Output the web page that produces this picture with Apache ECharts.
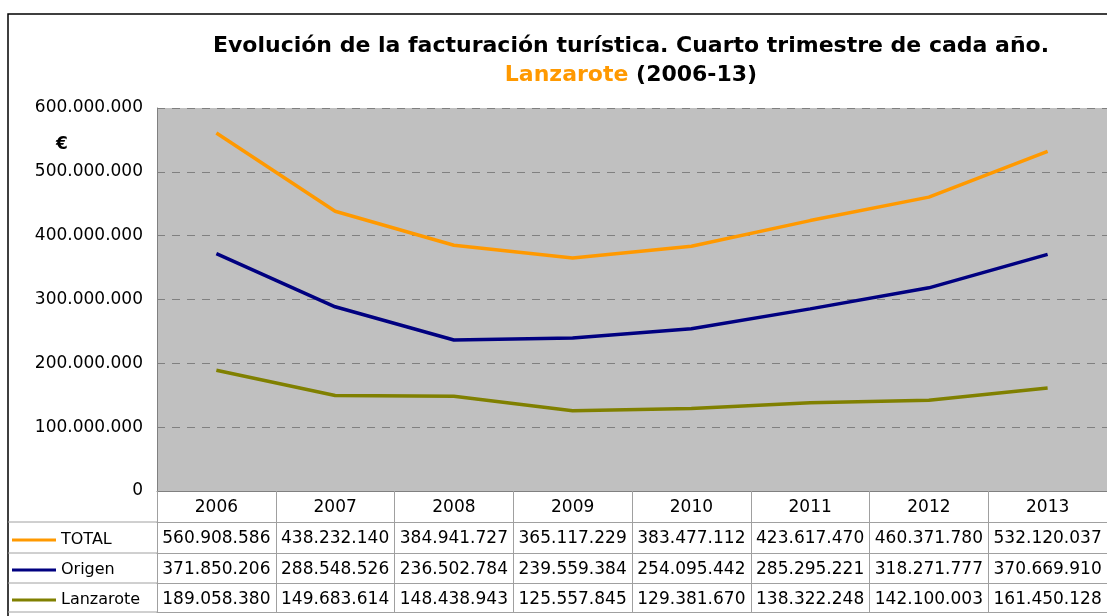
<!DOCTYPE html>
<html>
<head>
<meta charset="utf-8">
<script src="https://cdn.jsdelivr.net/npm/echarts@6/dist/echarts.min.js"></script>
<style>
  html, body { margin: 0; padding: 0; background: #fff; }
  #chart1 { width: 1107px; height: 616px; }
</style>
</head>
<body>
<div id="chart1"></div>
<script>
// datos del gráfico
const years = ['2006', '2007', '2008', '2009', '2010', '2011', '2012', '2013'];
const total = [560908586, 438232140, 384941727, 365117229, 383477112, 423617470, 460371780, 532120037];
const origen = [371850206, 288548526, 236502784, 239559384, 254095442, 285295221, 318271777, 370669910];
const lanzarote = [189058380, 149683614, 148438943, 125557845, 129381670, 138322248, 142100003, 161450128];

const font = 'DejaVu Sans';

// formato con puntos de miles
function fmt(n) {
    return String(n).replace(/\B(?=(\d{3})+(?!\d))/g, '.');
}

let chart1;

document.addEventListener('DOMContentLoaded', function () {
    chart1 = echarts.init(document.getElementById('chart1'));

    // ejes extra que hacen de filas de la tabla
    function tableRow(values, offset, showLabel) {
        return {
            type: 'category',
            gridIndex: 0,
            position: 'bottom',
            offset: offset,
            data: values,
            axisLine: { show: true, lineStyle: { color: '#a0a0a0', width: 1 } },
            axisTick: { show: false },
            axisLabel: { show: showLabel, interval: 0, margin: 8, color: '#000', fontSize: 17, fontFamily: font },
            splitLine: { show: false }
        };
    }

    function legendRow(name, top) {
        return {
            data: [name],
            left: 12,
            top: top,
            padding: 0,
            icon: 'rect',
            itemWidth: 44,
            itemHeight: 3,
            selectedMode: false,
            textStyle: { color: '#000', fontSize: 16, fontFamily: font }
        };
    }

    let lineSeries = function (name, data, color) {
        return {
            name: name,
            type: 'line',
            data: data,
            showSymbol: false,
            symbol: 'none',
            lineStyle: { color: color, width: 3.5 },
            itemStyle: { color: color }
        };
    };

    let option = {
        animation: false,
        title: {
            left: 631,
            top: 32,
            padding: 0,
            textAlign: 'center',
            text: '{t|Evolución de la facturación turística. Cuarto trimestre de cada año.}\n{o|Lanzarote}{t| (2006-13)}',
            textStyle: {
                rich: {
                    t: { fontSize: 22, fontWeight: 'bold', color: '#000', fontFamily: font, lineHeight: 29 },
                    o: { fontSize: 22, fontWeight: 'bold', color: '#ff9900', fontFamily: font, lineHeight: 29 }
                }
            }
        },
        legend: [
            legendRow('TOTAL', 532),
            legendRow('Origen', 562),
            legendRow('Lanzarote', 592)
        ],
        grid: {
            left: 157,
            top: 108,
            right: 0,
            bottom: 125,
            show: true,
            backgroundColor: '#c0c0c0',
            borderWidth: 0
        },
        xAxis: [
            {
                type: 'category',
                data: years,
                position: 'bottom',
                axisLine: { show: true, lineStyle: { color: '#808080', width: 1 } },
                axisTick: { show: true, length: 121, alignWithLabel: false, lineStyle: { color: '#a0a0a0' } },
                axisLabel: { interval: 0, margin: 8, color: '#000', fontSize: 17, fontFamily: font },
                splitLine: { show: false }
            },
            tableRow(total.map(fmt), 31, true),
            tableRow(origen.map(fmt), 62, true),
            tableRow(lanzarote.map(fmt), 92, true),
            tableRow(years.map(() => ''), 121, false)
        ],
        yAxis: {
            type: 'value',
            min: 0,
            max: 600000000,
            interval: 100000000,
            axisLine: { show: true, lineStyle: { color: '#808080' } },
            axisTick: { show: false },
            axisLabel: { margin: 14, color: '#000', fontSize: 17, fontFamily: font, formatter: fmt },
            splitLine: { show: true, lineStyle: { color: '#808080', type: [8, 7], width: 1 } }
        },
        graphic: [
            // marco exterior
            { type: 'rect', shape: { x: 8, y: 14, width: 1200, height: 700 }, style: { fill: null, stroke: '#000', lineWidth: 1.5 }, silent: true },
            { type: 'text', x: 62, y: 145, style: { text: '€', font: 'bold 17px DejaVu Sans', fill: '#000', textAlign: 'center', textVerticalAlign: 'middle' } },
            // líneas de la columna de leyenda
            { type: 'line', shape: { x1: 8, y1: 522, x2: 157, y2: 522 }, style: { stroke: '#a0a0a0', lineWidth: 1 } },
            { type: 'line', shape: { x1: 8, y1: 553, x2: 157, y2: 553 }, style: { stroke: '#a0a0a0', lineWidth: 1 } },
            { type: 'line', shape: { x1: 8, y1: 583, x2: 157, y2: 583 }, style: { stroke: '#a0a0a0', lineWidth: 1 } },
            { type: 'line', shape: { x1: 8, y1: 612, x2: 157, y2: 612 }, style: { stroke: '#a0a0a0', lineWidth: 1 } }
        ],
        series: [
            lineSeries('TOTAL', total, '#ff9900'),
            lineSeries('Origen', origen, '#000080'),
            lineSeries('Lanzarote', lanzarote, '#808000')
        ]
    };

    chart1.setOption(option);
});

//Echarts-Responsividad
window.addEventListener('resize', function () {
    chart1.resize();
});
</script>
</body>
</html>
